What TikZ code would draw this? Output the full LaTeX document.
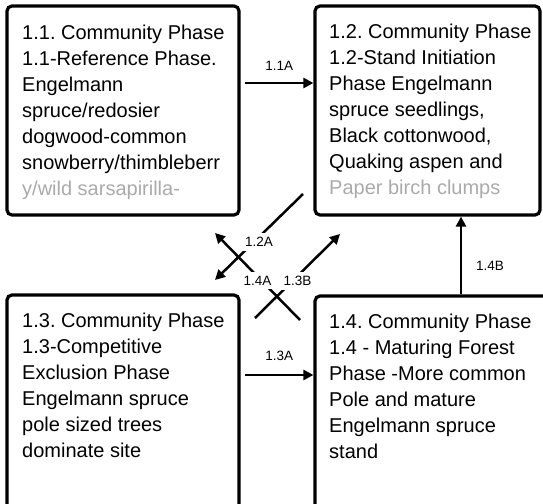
\documentclass[tikz,border=0pt]{standalone}
\usepackage{fontspec}
\setmainfont{Liberation Sans}
\usetikzlibrary{arrows.meta, positioning}
\definecolor{fadegray}{RGB}{170,170,170}
\frenchspacing

\begin{document}
\begin{tikzpicture}[
		x=1pt, y=-1pt,
		phase/.style={rectangle, draw=black, line width=3.2pt, rounded corners=5pt, inner sep=0pt},
		phasetext/.style={anchor=north west, align=left, inner sep=0pt,
			font=\fontsize{20}{26}\selectfont},
		arrow/.style={-{Triangle[length=10pt, width=10pt]}, line width=2.5pt, color=black},
		tlabel/.style={font=\fontsize{13.5}{15}\selectfont, fill=white, inner sep=4pt}
		]
		\clip (0,0) rectangle (543,503);

		\node[phase, minimum width=232pt, minimum height=209pt] (b11) at (123,110.5) {};
		\node[phase, minimum width=225pt, minimum height=209pt] (b12) at (427.5,110.5) {};
		\node[phase, minimum width=232pt, minimum height=235pt] (b13) at (123,412.5) {};
		\node[phase, minimum width=234pt, minimum height=235pt] (b14) at (432,413.5) {};

		\node[phasetext, below right=20.3pt and 16.6pt of b11.north west] (t11)
			{1.1. Community Phase\\1.1-Reference Phase.\\Engelmann\\spruce/redosier\\dogwood-common\\snowberry/thimbleberr\\{\color{fadegray}y/wild sarsapirilla-}};
		\node[phasetext, below right=19.3pt and 15.6pt of b12.north west] (t12)
			{1.2. Community Phase\\1.2-Stand Initiation\\Phase Engelmann\\spruce seedlings,\\Black cottonwood,\\Quaking aspen and\\{\color{fadegray}Paper birch clumps}};
		\node[phasetext, below right=19.3pt and 16.6pt of b13.north west] (t13)
			{1.3. Community Phase\\1.3-Competitive\\Exclusion Phase\\Engelmann spruce\\pole sized trees\\dominate site};
		\node[phasetext, below right=19.3pt and 15.6pt of b14.north west] (t14)
			{1.4. Community Phase\\1.4 - Maturing Forest\\Phase -More common\\Pole and mature\\Engelmann spruce\\stand};

		% free ends of the transitions
		\coordinate (h11) at (245,83);
		\coordinate (h13) at (245,375);
		\coordinate (v14) at (461,0);
		\coordinate (s12) at (303,194);
		\coordinate (e12) at (215,280);
		\coordinate (s14) at (300,320);
		\coordinate (e14) at (215,233);
		\coordinate (s13) at (255,318);
		\coordinate (e13) at (340,234);

		\draw[arrow] (h11) -- node[tlabel, yshift=17pt] {1.1A} (h11 -| b12.west);
		\draw[arrow] (h13) -- node[tlabel, yshift=19pt] {1.3A} (h13 -| b14.west);
		\draw[arrow] (v14 |- b14.north) -- node[tlabel, xshift=29pt, yshift=-10pt] {1.4B} (v14 |- b12.south);
		\draw[arrow] (s12) -- node[tlabel, yshift=-5pt] {1.2A} (e12);
		\draw[arrow] (s14) -- node[tlabel, yshift=-4pt] {1.4A} (e14);
		\draw[arrow] (s13) -- node[tlabel, yshift=-5pt] {1.3B} (e13);
	\end{tikzpicture}
\end{document}
